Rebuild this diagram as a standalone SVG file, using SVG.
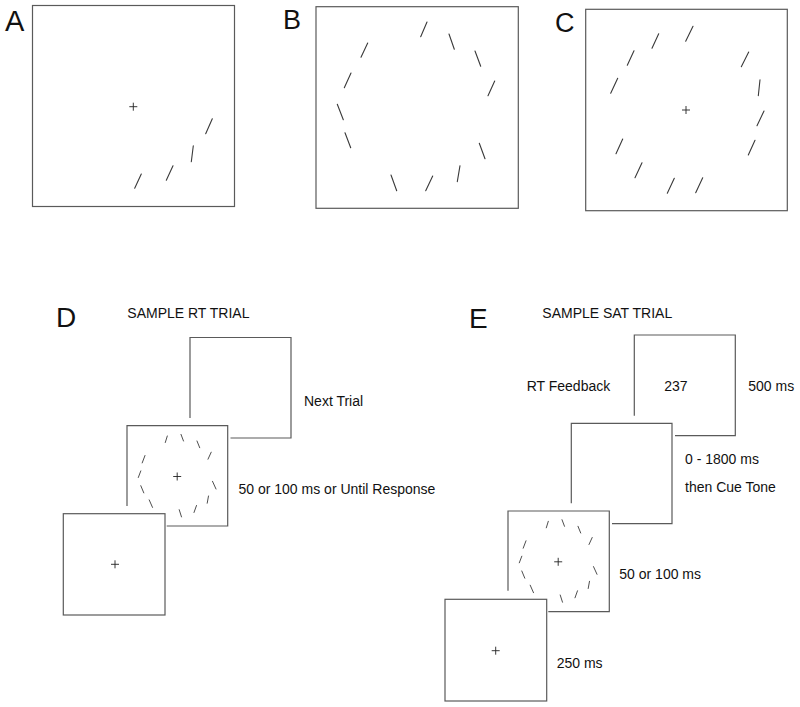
<svg xmlns="http://www.w3.org/2000/svg" xmlns:xlink="http://www.w3.org/1999/xlink" width="800" height="707" viewBox="0 0 800 707">
<style>
.box{fill:none;stroke:#5a5a5a;stroke-width:1.2}
.ln{stroke:#3a3a3a;stroke-width:1.1;fill:none;stroke-linecap:round}
.sl{stroke:#3a3a3a;stroke-width:0.9;fill:none;stroke-linecap:round}
.cr{stroke:#222;stroke-width:0.9;fill:none}
.t{font-family:"Liberation Sans",Arial,Helvetica,sans-serif;font-size:14px;fill:#111}
.lab{font-family:"Liberation Sans",Arial,Helvetica,sans-serif;fill:#111}
</style>
<defs>
<g id="cross"><path class="cr" d="M-4,0H4M0,-4V4"/></g>
<g id="smallStim">
<path class="sl" d="M38.3,16.8L40.3,10.3M54,8.7L56.5,15.3M70,15.3L72.7,22M81,33.5L84.2,26.5M85.5,55.6L89,63.3M80.2,77.5L81.5,70.3M67,86.8L69.5,79.8M52.2,84L54.5,91.2M22.2,74.2L25.5,81.7M13.8,60L16.8,67.2M11.3,51.8L13.8,45.2M15.2,37.2L18,29.8"/>
<use xlink:href="#cross" x="50.2" y="50.8"/>
</g>
</defs>

<g id="connectors"/>

<g id="panelA">
<text class="lab" x="5" y="30.7" font-size="29">A</text>
<rect class="box" x="32.5" y="5.5" width="202" height="201"/>
<use xlink:href="#cross" x="133.3" y="106.7"/>
<path class="ln" d="M134.7,188.3L141.3,174M166.3,180.3L173,165.7M191.3,161.7L193.3,145.7M205.7,133.7L212.3,118.7"/>
</g>

<g id="panelB">
<text class="lab" x="283" y="28.7" font-size="27">B</text>
<rect class="box" x="316" y="6.7" width="202.3" height="201.6"/>
<path class="ln" d="M420.7,36.7L427,22M449,34L454.3,49.3M475,51L480.7,66.3M488,95.7L494.7,81M479.3,143.3L485,158.7M457.3,181.7L460,165.7M425.7,190.7L432.7,176M391,175L396.7,190.7M345,132.7L350.7,147.7M337.3,104.3L343.3,119.7M344.3,87.7L351,73M361,57.3L367.7,43"/>
</g>

<g id="panelC">
<text class="lab" x="555" y="32.3" font-size="27">C</text>
<rect class="box" x="585.7" y="9.3" width="201.6" height="201.4"/>
<use xlink:href="#cross" x="686" y="110"/>
<path class="ln" d="M685.7,41.3L693,26.3M652,48.3L658.7,33.7M627.3,65.3L634,50.7M610.7,93.3L617.7,78.3M616,153.7L622.7,139M635,177.7L642,162.7M667.3,193.3L674.3,178.3M695.7,192.7L702.7,177.7M748.3,155L755,140.3M757,125.7L764,111M758.3,95.7L760,79.7M741.3,66.7L748.7,52"/>
</g>

<g id="panelD">
<text class="lab" x="56" y="327.3" font-size="28">D</text>
<text class="t" x="127.3" y="318.3">SAMPLE RT TRIAL</text>
</g>

<g id="D-next">
<path class="box" d="M230.5,438H291V337.5H190V418"/>
<text class="t" x="304" y="406">Next Trial</text>
</g>

<g id="D-stimulus">
<path class="box" d="M166.7,526H227.7V425.7H127V506"/>
<use xlink:href="#smallStim" x="127" y="425.7"/>
<text class="t" x="238.5" y="494.3">50 or 100 ms or Until Response</text>
</g>

<g id="D-fixation">
<rect class="box" x="63.3" y="513.7" width="101.7" height="101.3"/>
<use xlink:href="#cross" x="115" y="564.3"/>
</g>

<g id="panelE">
<text class="lab" x="469" y="328.3" font-size="28">E</text>
<text class="t" x="542.3" y="318.3">SAMPLE SAT TRIAL</text>
</g>

<g id="E-feedback">
<path class="box" d="M675,435.7H735.3V335H634.3V415.7"/>
<text class="t" x="526.7" y="390.5">RT Feedback</text>
<text class="t" x="664.3" y="390.7">237</text>
<text class="t" x="748.3" y="390.7">500 ms</text>
</g>

<g id="E-delay">
<path class="box" d="M612,523.7H672V423.3H571.3V503.3"/>
<text class="t" x="685" y="464">0 - 1800 ms</text>
<text class="t" x="685" y="491.7">then Cue Tone</text>
</g>

<g id="E-stimulus">
<path class="box" d="M548.3,611.7H609.3V511H508V590.7"/>
<use xlink:href="#smallStim" x="508" y="511"/>
<text class="t" x="619.3" y="579.3">50 or 100 ms</text>
</g>

<g id="E-fixation">
<rect class="box" x="445" y="599.3" width="101.7" height="101.7"/>
<use xlink:href="#cross" x="495.7" y="650.7"/>
<text class="t" x="556.7" y="668.3">250 ms</text>
</g>
</svg>
